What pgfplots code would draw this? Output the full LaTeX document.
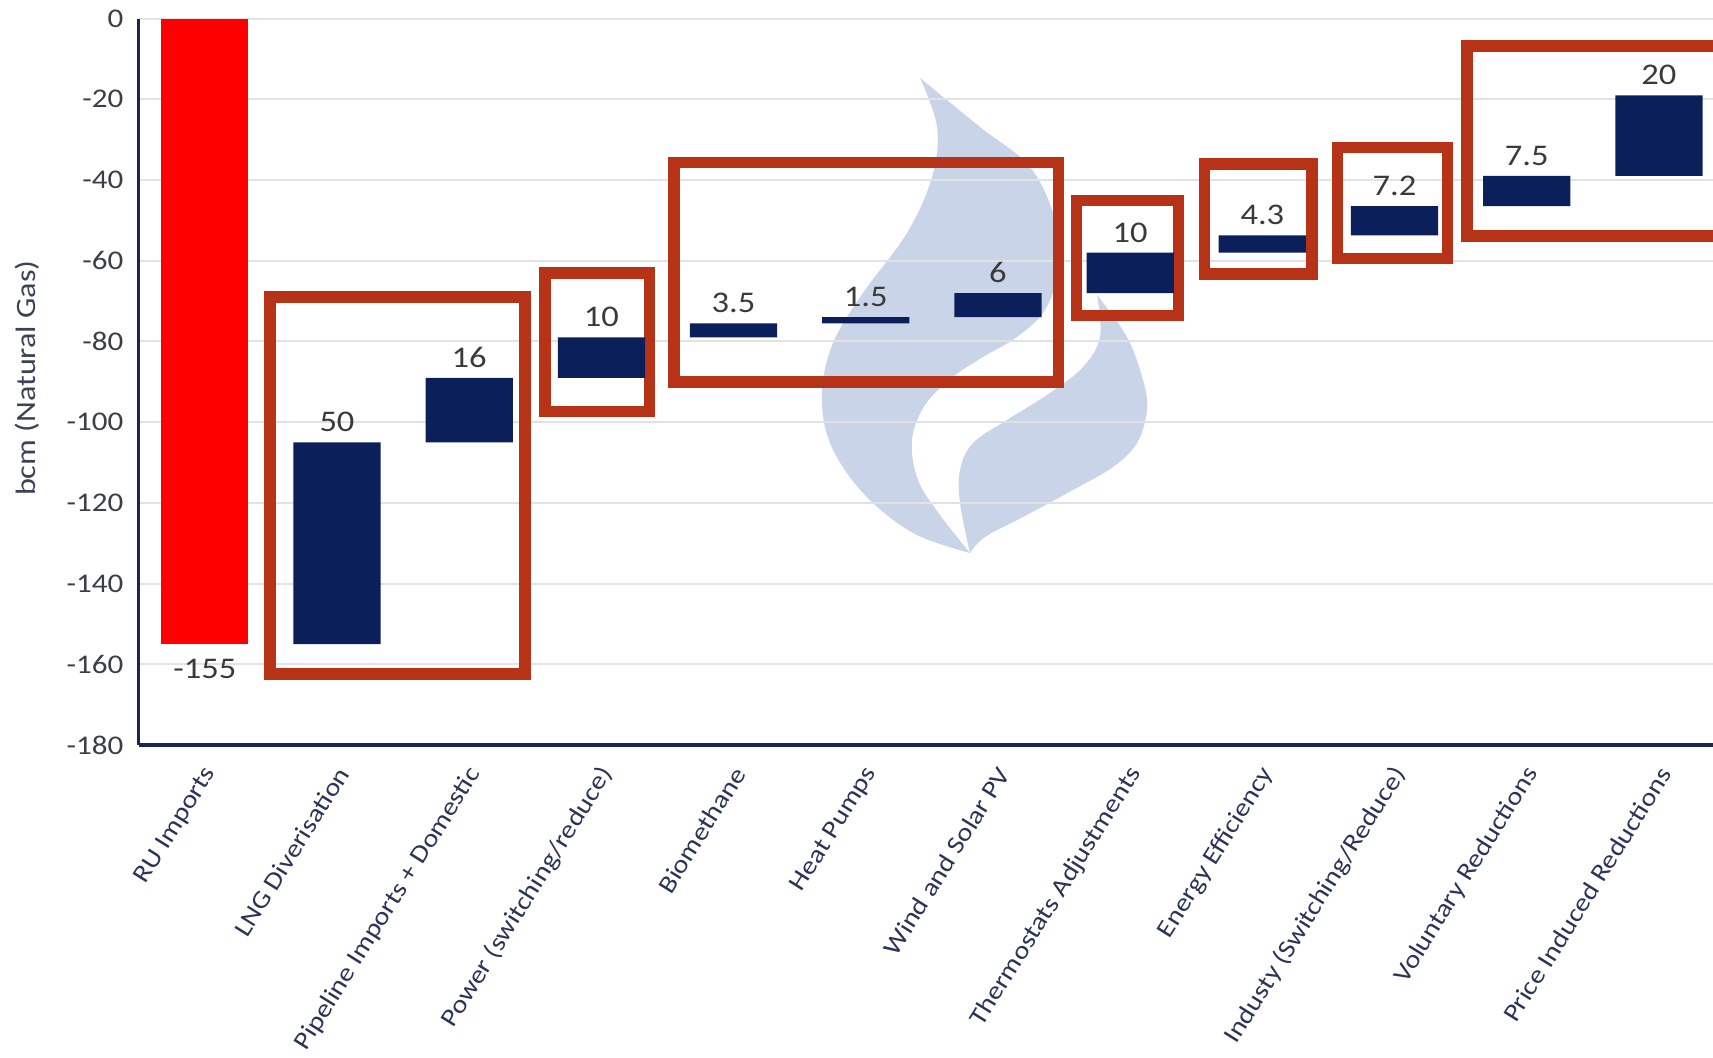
\documentclass[border=0pt]{standalone}
\usepackage{fontspec}
\setmainfont{Carlito}[FakeStretch=1.15]
\usepackage{pgfplots}
\usepackage{pgfplotstable}
\pgfplotsset{compat=1.18}

\definecolor{gasnavy}{HTML}{0B1F5B}
\definecolor{gasred}{HTML}{FF0000}
\definecolor{boxred}{HTML}{B73318}
\definecolor{axisnavy}{HTML}{1C2650}
\definecolor{gridgray}{HTML}{E2E2E2}
\definecolor{flameblue}{HTML}{CAD4E8}
\definecolor{ticktext}{HTML}{3B3E48}
\definecolor{cattext}{HTML}{2A3358}
\definecolor{valtext}{HTML}{3A3A3A}
\definecolor{labeltext}{HTML}{3A4256}

\tikzset{
  steplabel up/.style={anchor=south, inner sep=0pt, yshift=5pt,
    font=\fontsize{15}{17}\selectfont, text=valtext},
  steplabel down/.style={anchor=north, inner sep=0pt, yshift=-7.3pt,
    font=\fontsize{15}{17}\selectfont, text=valtext},
}

% Waterfall steps: upper edge of each floating bar, its (negative) height,
% and the values printed above or below it.
\pgfplotstableread{
x   top     red    navy   above  below
0   0       -155   0      {}     -155
1   -105    0      -50    50     {}
2   -89     0      -16    16     {}
3   -79     0      -10    10     {}
4   -75.5   0      -3.5   3.5    {}
5   -74     0      -1.5   1.5    {}
6   -68     0      -6     6      {}
7   -58     0      -10    10     {}
8   -53.7   0      -4.3   4.3    {}
9   -46.5   0      -7.2   7.2    {}
10  -39     0      -7.5   7.5    {}
11  -19     0      -20    20     {}
}\steps

\begin{document}
\begin{tikzpicture}

% flame watermark behind the plot area
\begin{scope}[shift={(-69.35pt,372.5pt)}, x=0.5pt, y=-0.5pt]
  \fill[flameblue]
    plot[smooth, tension=0.6] coordinates {(920,78) (980,127) (1030,167) (1055,220) (1058,270) (1045,310) (1017,337) (983,357) (953,377) (925,405) (912,440) (918,480) (940,515) (970,553)}
    -- plot[smooth, tension=0.6] coordinates {(970,553) (913,533) (863,493) (830,443) (822,393) (833,343) (863,293) (907,233) (932,177) (937,127) (920,78)}
    -- cycle;
  \fill[flameblue]
    plot[smooth, tension=0.6] coordinates {(1097,295) (1127,337) (1143,380) (1147,410) (1137,443) (1113,467) (1073,490) (1023,517) (985,537) (970,553)}
    -- plot[smooth, tension=0.6] coordinates {(970,553) (960,503) (960,470) (973,443) (1007,420) (1050,393) (1083,367) (1100,337) (1097,295)}
    -- cycle;
\end{scope}

\begin{axis}[
  at={(0,0)}, anchor=south west,
  scale only axis, width=787.15pt, height=363.2pt,
  xmin=-0.5, xmax=11.409, ymin=-180, ymax=0,
  ybar stacked, bar width=0.66,
  axis x line*=bottom, axis y line*=left,
  axis line style={draw=axisnavy, line width=1.6pt, -},
  ytick={-180,-160,...,0},
  xtick={0,...,11},
  xticklabels={RU Imports, LNG Diverisation, Pipeline Imports + Domestic, Power (switching/reduce), Biomethane, Heat Pumps, Wind and Solar PV, Thermostats Adjustments, Energy Efficiency, Industy (Switching/Reduce), Voluntary Reductions, Price Induced Reductions},
  major tick length=0pt,
  ymajorgrids, grid style={draw=gridgray, line width=1pt},
  /pgf/number format/assume math mode=true,
  yticklabel style={font=\fontsize{13.5}{15}\selectfont, text=ticktext, anchor=east, inner sep=0pt, xshift=-7.5pt},
  xticklabel style={font=\fontsize{12.5}{14}\selectfont, text=cattext, xshift=3pt, yshift=-12.2pt, rotate=58, anchor=east, inner sep=0pt},
  ylabel={bcm (Natural Gas)},
  ylabel style={at={(axis description cs:-0.071,0.505)}, anchor=center, font=\fontsize{14}{16}\selectfont, text=labeltext},
  clip=false,
]
% invisible offset up to the upper edge of each step
\addplot[draw=none, fill=none] table[x=x, y=top] {\steps};
% starting import volume
\addplot[fill=gasred, draw=none] table[x=x, y=red] {\steps};
% replacement and saving steps
\addplot[fill=gasnavy, draw=none] table[x=x, y=navy] {\steps};

% value of each step, printed at its upper or lower edge
\pgfplotsinvokeforeach{0,...,11}{%
  \pgfplotstablegetelem{#1}{x}\of\steps\let\sx\pgfplotsretval
  \pgfplotstablegetelem{#1}{top}\of\steps\let\stop\pgfplotsretval
  \pgfplotstablegetelem{#1}{red}\of\steps\let\sred\pgfplotsretval
  \pgfplotstablegetelem{#1}{navy}\of\steps\let\snavy\pgfplotsretval
  \pgfplotstablegetelem{#1}{above}\of\steps\let\sabove\pgfplotsretval
  \pgfplotstablegetelem{#1}{below}\of\steps\let\sbelow\pgfplotsretval
  \pgfmathsetmacro\sbottom{\stop+\sred+\snavy}%
  \edef\stepnodes{%
    \noexpand\node[steplabel up] at (axis cs:\sx,\stop) {\sabove};
    \noexpand\node[steplabel down] at (axis cs:\sx,\sbottom) {\sbelow};
  }\stepnodes
}

% groupings
\draw[boxred, line width=5.8pt] (axis cs:0.493,-69.0) rectangle (axis cs:2.420,-162.4);
\draw[boxred, line width=5.8pt] (axis cs:2.574,-63.0) rectangle (axis cs:3.363,-97.4);
\draw[boxred, line width=5.8pt] (axis cs:3.548,-35.65) rectangle (axis cs:6.457,-90.0);
\draw[boxred, line width=5.8pt] (axis cs:6.595,-45.1) rectangle (axis cs:7.366,-73.6);
\draw[boxred, line width=5.8pt] (axis cs:7.561,-36.0) rectangle (axis cs:8.375,-63.3);
\draw[boxred, line width=5.8pt] (axis cs:8.569,-31.9) rectangle (axis cs:9.401,-59.4);
\draw[boxred, line width=5.8pt] (axis cs:9.547,-6.75) rectangle (axis cs:11.9,-53.8);
\end{axis}

\pgfresetboundingbox
\path[use as bounding box] (-69.35pt,-156.5pt) rectangle (787.15pt,372.5pt);
\end{tikzpicture}
\end{document}
